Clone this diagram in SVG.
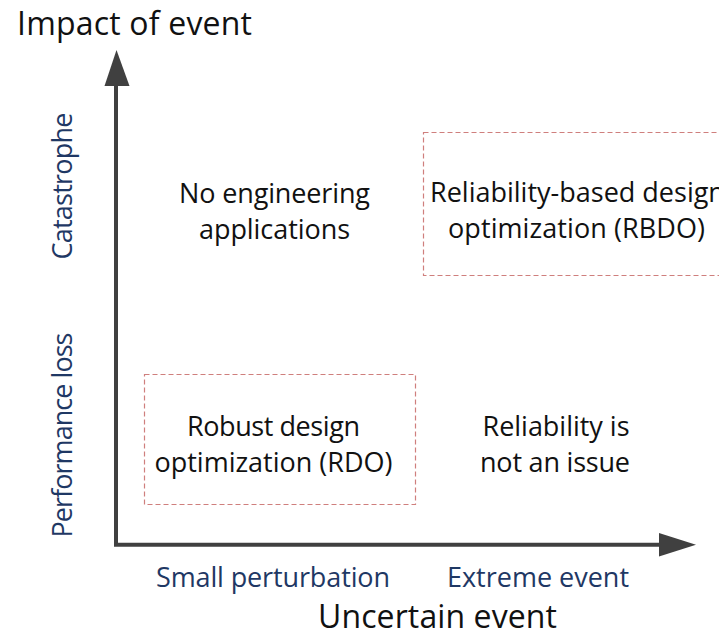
<svg xmlns="http://www.w3.org/2000/svg" width="719" height="636" viewBox="0 0 719 636">
  <style>
    text { font-family: "Open Sans", "Liberation Sans", sans-serif; }
    .body { font-size: 27px; fill: #111; text-anchor: middle; }
    .body-start { font-size: 27px; fill: #111; text-anchor: start; }
    .axis-title { font-size: 32px; fill: #111; }
    .tick { font-size: 27px; fill: #1f3864; text-anchor: middle; }
    .region { fill: none; stroke: #cf7f7d; stroke-width: 1.2; stroke-dasharray: 5 3; }
    .axis { fill: none; stroke: #404040; stroke-width: 4; }
    .head { fill: #404040; }
  </style>

  <!-- axes -->
  <g id="axes">
    <path class="axis" d="M116 85 V544.7 H660" stroke-linecap="square"/>
    <polygon class="head" points="116.5,50 104.5,86 129.5,86"/>
    <polygon class="head" points="696,544.7 659,533 659,556.5"/>
  </g>

  <!-- axis titles -->
  <text class="axis-title" x="17" y="35" textLength="235">Impact of event</text>
  <text class="axis-title" x="437.5" y="628" text-anchor="middle" textLength="239">Uncertain event</text>

  <!-- vertical tick labels -->
  <text class="tick" transform="translate(72,186) rotate(-90)" textLength="147">Catastrophe</text>
  <text class="tick" transform="translate(72,435) rotate(-90)" textLength="205">Performance loss</text>

  <!-- horizontal tick labels -->
  <text class="tick" x="273" y="587" textLength="234">Small perturbation</text>
  <text class="tick" x="538" y="587" textLength="182">Extreme event</text>

  <!-- quadrant: catastrophe / small perturbation -->
  <g id="no-applications">
    <text class="body" x="274.5" y="203" textLength="191">No engineering</text>
    <text class="body" x="274.5" y="239" textLength="151">applications</text>
  </g>

  <!-- quadrant: catastrophe / extreme event -->
  <g id="rbdo">
    <rect class="region" x="423.5" y="132.5" width="310" height="143"/>
    <text class="body-start" x="430" y="202">Reliability-based design</text>
    <text class="body" x="576.5" y="238" textLength="257">optimization (RBDO)</text>
  </g>

  <!-- quadrant: performance loss / small perturbation -->
  <g id="rdo">
    <rect class="region" x="144.5" y="374.5" width="271" height="130"/>
    <text class="body" x="273.5" y="436" textLength="173">Robust design</text>
    <text class="body" x="273.5" y="472" textLength="238">optimization (RDO)</text>
  </g>

  <!-- quadrant: performance loss / extreme event -->
  <g id="no-issue">
    <text class="body" x="556" y="436" textLength="147">Reliability is</text>
    <text class="body" x="555" y="472" textLength="150">not an issue</text>
  </g>
</svg>
